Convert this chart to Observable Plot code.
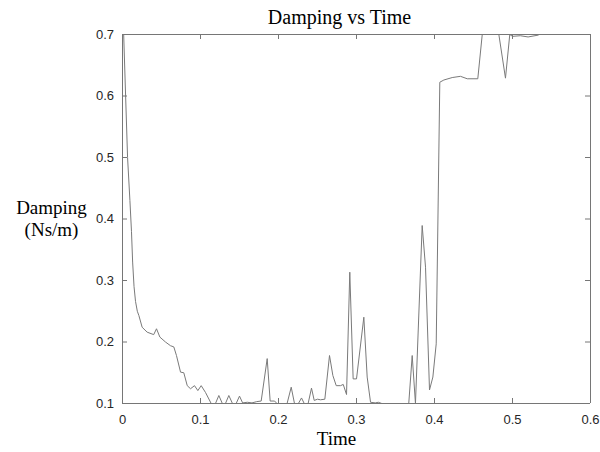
<!DOCTYPE html>
<html>
<head>
<meta charset="utf-8">
<script src="https://cdn.jsdelivr.net/npm/d3@7"></script>
<script src="https://cdn.jsdelivr.net/npm/@observablehq/plot@0.6"></script>
<style>
  html, body { margin: 0; padding: 0; background: #fff; }
</style>
</head>
<body>
<div id="chart"></div>
<script>
const time = [
  0.0015, 0.004, 0.0065, 0.0095, 0.0115, 0.013, 0.0148, 0.0167, 0.019, 0.021,
  0.0252, 0.0316, 0.040, 0.0436, 0.0479, 0.0551, 0.0615, 0.0658, 0.0692, 0.0744,
  0.0786, 0.083, 0.0872, 0.0923, 0.0966, 0.1009, 0.1064, 0.1137, 0.1192, 0.1235,
  0.128, 0.132, 0.1363, 0.141, 0.1457, 0.150, 0.154, 0.160, 0.166, 0.172,
  0.1778, 0.1855, 0.1893, 0.195, 0.198, 0.211, 0.2163, 0.2205, 0.2255, 0.2295,
  0.233, 0.238, 0.2423, 0.2458, 0.250, 0.2538, 0.2594, 0.2654, 0.2697, 0.274,
  0.2795, 0.283, 0.2872, 0.2914, 0.2957, 0.300, 0.3094, 0.3137, 0.318, 0.324,
  0.328, 0.3325, 0.335, 0.365, 0.367, 0.3714, 0.3756, 0.3842, 0.3885, 0.3936,
  0.3979, 0.4022, 0.4068, 0.412, 0.4227, 0.4333, 0.442, 0.4555, 0.4612, 0.4825,
  0.491, 0.4965, 0.500, 0.510, 0.520, 0.533
];
const damping = [
  0.700, 0.600, 0.500, 0.430, 0.380, 0.330, 0.290, 0.266, 0.250, 0.243,
  0.224, 0.216, 0.212, 0.2215, 0.208, 0.200, 0.194, 0.192, 0.178, 0.151,
  0.150, 0.129, 0.124, 0.129, 0.121, 0.129, 0.118, 0.100, 0.100, 0.113,
  0.100, 0.100, 0.113, 0.100, 0.100, 0.112, 0.101, 0.102, 0.101, 0.103,
  0.104, 0.173, 0.104, 0.104, 0.100, 0.100, 0.1265, 0.100, 0.100, 0.109,
  0.100, 0.100, 0.125, 0.105, 0.107, 0.106, 0.107, 0.178, 0.1455, 0.129,
  0.129, 0.131, 0.1146, 0.3135, 0.140, 0.140, 0.2403, 0.143, 0.102, 0.101,
  0.102, 0.100, 0.080, 0.080, 0.100, 0.178, 0.100, 0.3894, 0.3216, 0.122,
  0.143, 0.197, 0.6224, 0.626, 0.630, 0.632, 0.628, 0.628, 0.700, 0.700,
  0.629, 0.700, 0.697, 0.698, 0.696, 0.699
];
const xTicks = [0, 0.1, 0.2, 0.3, 0.4, 0.5, 0.6];
const yTicks = [0.1, 0.2, 0.3, 0.4, 0.5, 0.6, 0.7];
const xDomain = [0, 0.6];
const yDomain = [0.1, 0.7];
const titleText = "Damping vs Time";
const xLabelText = "Time";
const yLabelText = "Damping\n(Ns/m)";

const rows = time.map((t, i) => ({t, v: damping[i]}));
const fmt = d => d === 0 ? "0" : d3.format(".1f")(d);
const axisColor = "#767676";
const textColor = "#262626";
const serif = "'Liberation Serif', 'Times New Roman', serif";

const W = 600, H = 452, mL = 122, mR = 10, mT = 34, mB = 49;
const tick = 5;
const innerW = W - mL - mR, innerH = H - mT - mB;

const chart = Plot.plot({
  width: W,
  height: H,
  marginLeft: mL,
  marginRight: mR,
  marginTop: mT,
  marginBottom: mB,
  style: {background: "#fff", fontFamily: "'Liberation Sans', Arial, sans-serif", fontSize: "13px"},
  x: {domain: xDomain},
  y: {domain: yDomain},
  marks: [
    Plot.line(rows, {x: "t", y: "v", stroke: "#7a7a7a", strokeWidth: 1, clip: true}),
    // inward tick marks on all four sides
    Plot.ruleX(xTicks, {x: d => d, insetTop: innerH - tick, stroke: axisColor}),
    Plot.ruleX(xTicks, {x: d => d, insetBottom: innerH - tick, stroke: axisColor}),
    Plot.ruleY(yTicks, {y: d => d, insetRight: innerW - tick, stroke: axisColor}),
    Plot.ruleY(yTicks, {y: d => d, insetLeft: innerW - tick, stroke: axisColor}),
    // box
    Plot.ruleX(xDomain, {x: d => d, stroke: axisColor}),
    Plot.ruleY(yDomain, {y: d => d, stroke: axisColor}),
    Plot.axisX(xTicks, {anchor: "bottom", tickSize: 0, tickPadding: 11, tickFormat: fmt, label: null, fill: textColor, fontSize: 13}),
    Plot.axisY(yTicks, {anchor: "left", tickSize: 0, tickPadding: 8.5, tickFormat: fmt, label: null, fill: textColor, fontSize: 13}),
    Plot.text([titleText], {frameAnchor: "top-left", textAnchor: "middle", lineAnchor: "middle", dx: 217, dy: -17, fontFamily: serif, fontSize: 20, fill: "#000"}),
    Plot.text([xLabelText], {frameAnchor: "bottom-left", textAnchor: "middle", lineAnchor: "middle", dx: 214, dy: 35, fontFamily: serif, fontSize: 19, fill: "#000"}),
    Plot.text([yLabelText], {frameAnchor: "left", textAnchor: "middle", lineAnchor: "middle", dx: -71, dy: -1, lineHeight: 1.16, fontFamily: serif, fontSize: 19, fill: "#000"})
  ]
});
document.getElementById("chart").appendChild(chart);
</script>
</body>
</html>
